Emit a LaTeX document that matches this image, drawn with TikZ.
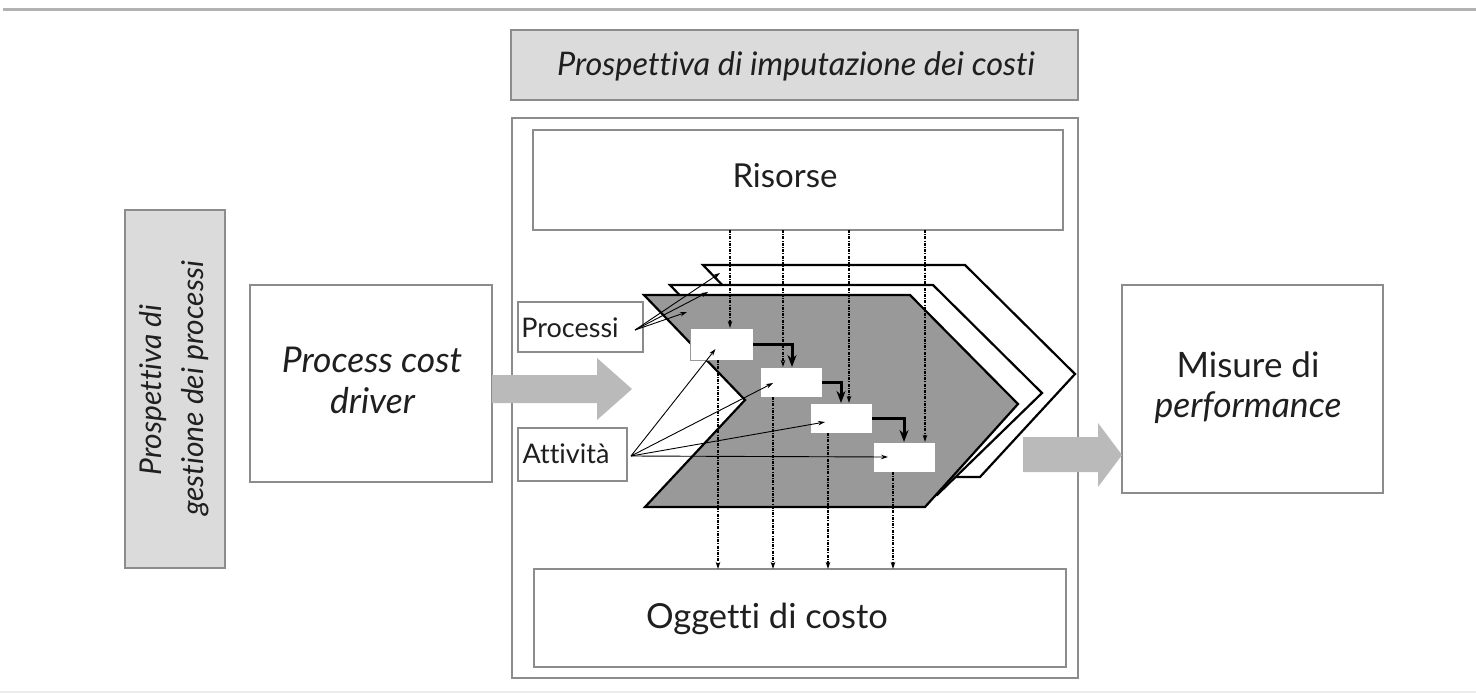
\documentclass[tikz,border=0pt]{standalone}
\usepackage{fontspec}
\setmainfont{Lato}[Ligatures={NoCommon}]
\usetikzlibrary{arrows.meta}
\begin{document}
\begin{tikzpicture}[x=1pt,y=-1pt,
  gbox/.style={draw=black!45, line width=1.4pt, fill=white, inner sep=0pt, outer sep=0pt},
  tbox/.style={gbox, fill=black!14},
  lbl/.style={anchor=base, inner sep=0pt, outer sep=0pt, text=black!88},
  chev/.style={draw=black, line width=2.2pt, line join=miter},
  actbox/.style={draw=black!40, line width=1pt, fill=white, inner sep=0pt, outer sep=0pt},
  thinarr/.style={-{Stealth[length=7pt,width=4.5pt]}, line width=0.9pt, black},
  dsh/.style={thinarr, line width=1.1pt, dash pattern=on 3pt off 1.2pt on 1pt off 1.2pt},
  thickarr/.style={-{Stealth[length=12pt,width=9pt]}, line width=3pt, black},
  fatc/.style={fill=black!27}
]
\useasboundingbox (0,0) rectangle (1476,694);
% rules
\draw[black!30, line width=3pt] (3,9) -- (1476,9);
\draw[black!8, line width=1.5pt] (0,692) -- (1476,692);

% boxes
\node[tbox, minimum width=567pt, minimum height=70pt] (title) at (794.5,65) {};
\node[gbox, minimum width=566pt, minimum height=560pt] (outer) at (795,398) {};
\node[gbox, minimum width=530pt, minimum height=100pt] (ris) at (798,180) {};
\node[gbox, minimum width=532pt, minimum height=98pt] (ogg) at (800,618) {};
\node[tbox, minimum width=100pt, minimum height=358pt] (gest) at (175,389) {};
\node[gbox, minimum width=242pt, minimum height=197pt] (pcd) at (371,383.5) {};
\node[gbox, minimum width=261pt, minimum height=208pt] (mis) at (1252.5,389) {};
\node[gbox, line width=1.1pt, minimum width=125pt, minimum height=50pt] (proc) at (580.5,327) {};
\node[gbox, line width=1.1pt, minimum width=109pt, minimum height=53pt] (att) at (572.5,454.5) {};

% labels
\node[lbl] (ttitle) at (796,75) {\fontsize{32.5}{38}\selectfont\itshape Prospettiva di imputazione dei costi};
\node[lbl] (tris) at (785,187) {\fontsize{33}{40}\selectfont Risorse};
\node[lbl] (togg) at (767,628) {\fontsize{34.5}{40}\selectfont Oggetti di costo};
\node[lbl] (tproc) at (570,337) {\fontsize{27}{32}\selectfont Processi};
\node[lbl] (tatt) at (566,463) {\fontsize{27}{32}\selectfont Attività};
\node[lbl] (tpcd1) at (372,372) {\fontsize{35.5}{40}\selectfont\itshape Process cost};
\node[lbl] (tpcd2) at (372.5,413) {\fontsize{35.5}{40}\selectfont\itshape driver};
\node[lbl] (tmis1) at (1248,377) {\fontsize{35}{40}\selectfont Misure di};
\node[lbl] (tmis2) at (1248,417) {\fontsize{35.5}{40}\selectfont\itshape performance};
\node[lbl, rotate=90] (tgest1) at (161,390) {\fontsize{30}{34}\selectfont\itshape Prospettiva di};
\node[lbl, rotate=90] (tgest2) at (203,388.5) {\fontsize{30}{34}\selectfont\itshape gestione dei processi};

% fat gray arrows
\fill[fatc] (pcd.east |- 0,375) -- (597,375) -- (597,358) -- (632,389) -- (597,420) -- (597,403) -- (pcd.east |- 0,403) -- cycle;
\fill[fatc] (1023,437) -- (1098,437) -- (1098,423) -- (mis.west |- 0,455) -- (1098,487) -- (1098,472) -- (1023,472) -- cycle;

% chevrons
\filldraw[chev, fill=white] (703,265) -- (965,265) -- (1075,374) -- (980,477) -- (704,477) -- (804,370) -- cycle;
\filldraw[chev, fill=white] (670,285) -- (933,285) -- (1042,393) -- (937,495) -- (670,495) -- (770,390) -- cycle;
\filldraw[chev, fill=black!40] (644,295) -- (910,295) -- (1018,404) -- (925,507) -- (645,507) -- (745,400) -- cycle;

% activity boxes
\node[actbox, minimum width=63pt, minimum height=32pt] (a1) at (721.5,344) {};
\node[actbox, minimum width=62pt, minimum height=30pt] (a2) at (791,382) {};
\node[actbox, minimum width=62pt, minimum height=30pt] (a3) at (841,418) {};
\node[actbox, minimum width=62pt, minimum height=30pt] (a4) at (904,457) {};

% x positions of resource flows
\coordinate (rx1) at (730,0);
\coordinate (rx2) at (783,0);
\coordinate (rx3) at (849,0);
\coordinate (rx4) at (925,0);
\coordinate (ox1) at (718,0);
\coordinate (ox2) at (773,0);
\coordinate (ox3) at (828,0);
\coordinate (ox4) at (893,0);

\draw[dsh] (rx1 |- ris.south) -- (rx1 |- a1.north);
\draw[dsh] (rx2 |- ris.south) -- (rx2 |- a2.north);
\draw[dsh] (rx3 |- ris.south) -- (rx3 |- a3.north);
\draw[dsh] (rx4 |- ris.south) -- (rx4 |- a4.north);

\draw[dsh] (ox1 |- a1.south) -- (ox1 |- ogg.north);
\draw[dsh] (ox2 |- a2.south) -- (ox2 |- ogg.north);
\draw[dsh] (ox3 |- a3.south) -- (ox3 |- ogg.north);
\draw[dsh] (ox4 |- a4.south) -- (ox4 |- ogg.north);

% flow between activities
\draw[thickarr] (a1.east) -| ([xshift=1pt]a2.north);
\draw[thickarr] (a2.east) -| (a3.north);
\draw[thickarr] (a3.east) -| (a4.north);

% Processi pointers
\coordinate (p0) at (635,330);
\coordinate (pc1) at (687,312);
\coordinate (pc2) at (708,292);
\coordinate (pc3) at (720,273);
\draw[thinarr] (p0) -- (pc1);
\draw[thinarr] (p0) -- (pc2);
\draw[thinarr] (p0) -- (pc3);

% Attivita pointers
\coordinate (q0) at (631,456);
\draw[thinarr] (q0) -- ([shift={(-6,5)}]a1.center);
\draw[thinarr] (q0) -- ([shift={(-18,1)}]a2.center);
\draw[thinarr] (q0) -- ([shift={(-16,4)}]a3.center);
\draw[thinarr] (q0) -- ([shift={(-16,0)}]a4.center);
\end{tikzpicture}
\end{document}
